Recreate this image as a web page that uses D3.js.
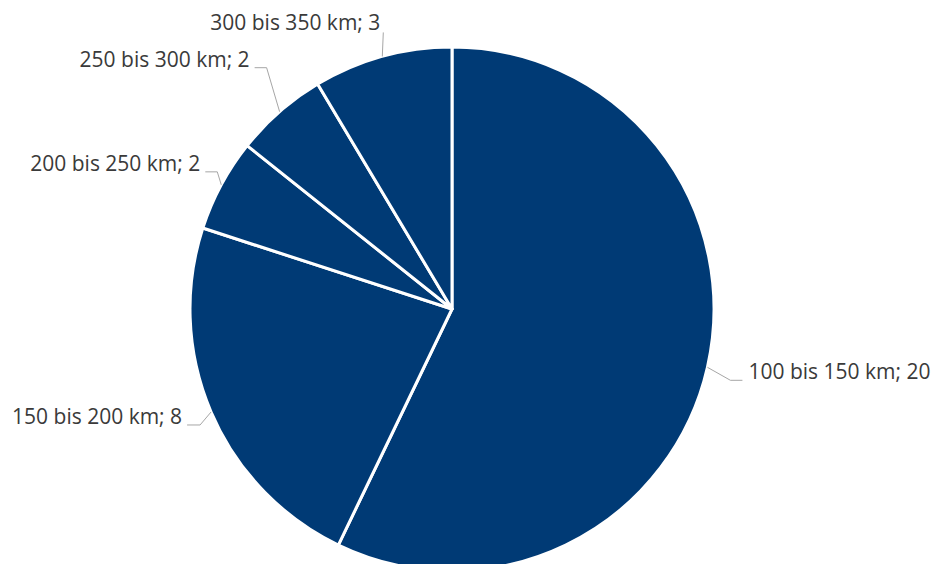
<!DOCTYPE html>
<html>
<head>
<meta charset="utf-8">
<script src="https://cdn.jsdelivr.net/npm/d3@7"></script>
<style>
  html, body { margin: 0; padding: 0; background: #ffffff; }
  svg { display: block; }
  text { font-family: "Open Sans", "Liberation Sans", sans-serif; fill: #3a3a3a; }
</style>
</head>
<body>
<svg id="chart" width="934" height="564"></svg>
<script>
// Distance classes and counts
const categories = ["100 bis 150 km", "150 bis 200 km", "200 bis 250 km", "250 bis 300 km", "300 bis 350 km"];
const counts = [20, 8, 2, 2, 3];

// Label leader layout: elbow offset from the slice edge, then horizontal run
const leaderElbow = [[23, 13], [-11, 13], [-4, -13], [-13, -44], [1, -24]];
const leaderRun = [12, -13, -12, -12, 0];

const width = 934, height = 564;
const cx = 452, cy = 309, radius = 262;
const fill = "#003a75";

const svg = d3.select("#chart");
const g = svg.append("g").attr("transform", `translate(${cx},${cy})`);

const data = categories.map((c, i) => ({ name: c, value: counts[i], idx: i }));

const pie = d3.pie().value(d => d.value).sort(null).startAngle(0).endAngle(2 * Math.PI);
const arcs = pie(data);
const arc = d3.arc().innerRadius(0).outerRadius(radius);

g.selectAll("path.slice")
  .data(arcs)
  .join("path")
  .attr("class", "slice")
  .attr("d", arc)
  .attr("fill", fill)
  .attr("stroke", "#ffffff")
  .attr("stroke-width", 3)
  .attr("stroke-linejoin", "round");

// Leader lines and labels
arcs.forEach((a, i) => {
  const mid = (a.startAngle + a.endAngle) / 2;
  const ex = radius * Math.sin(mid);
  const ey = -radius * Math.cos(mid);
  const bx = ex + leaderElbow[i][0];
  const by = ey + leaderElbow[i][1];
  const tx = bx + leaderRun[i];
  const ty = by;
  g.append("polyline")
    .attr("points", [[ex, ey], [bx, by], [tx, ty]].map(p => p.join(",")).join(" "))
    .attr("fill", "none")
    .attr("stroke", "#a6a6a6")
    .attr("stroke-width", 1);

  const right = tx >= 0 && i === 0;
  let lx, ly, anchor;
  if (leaderRun[i] === 0) {
    lx = tx - 3; ly = ty - 2; anchor = "end";
  } else if (right) {
    lx = tx + 6; ly = ty - 1; anchor = "start";
  } else {
    lx = tx - 5; ly = ty - 1; anchor = "end";
  }
  g.append("text")
    .attr("x", lx)
    .attr("y", ly)
    .attr("text-anchor", anchor)
    .attr("font-size", 21)
    .text(`${a.data.name}; ${a.data.value}`);
});
</script>
</body>
</html>
